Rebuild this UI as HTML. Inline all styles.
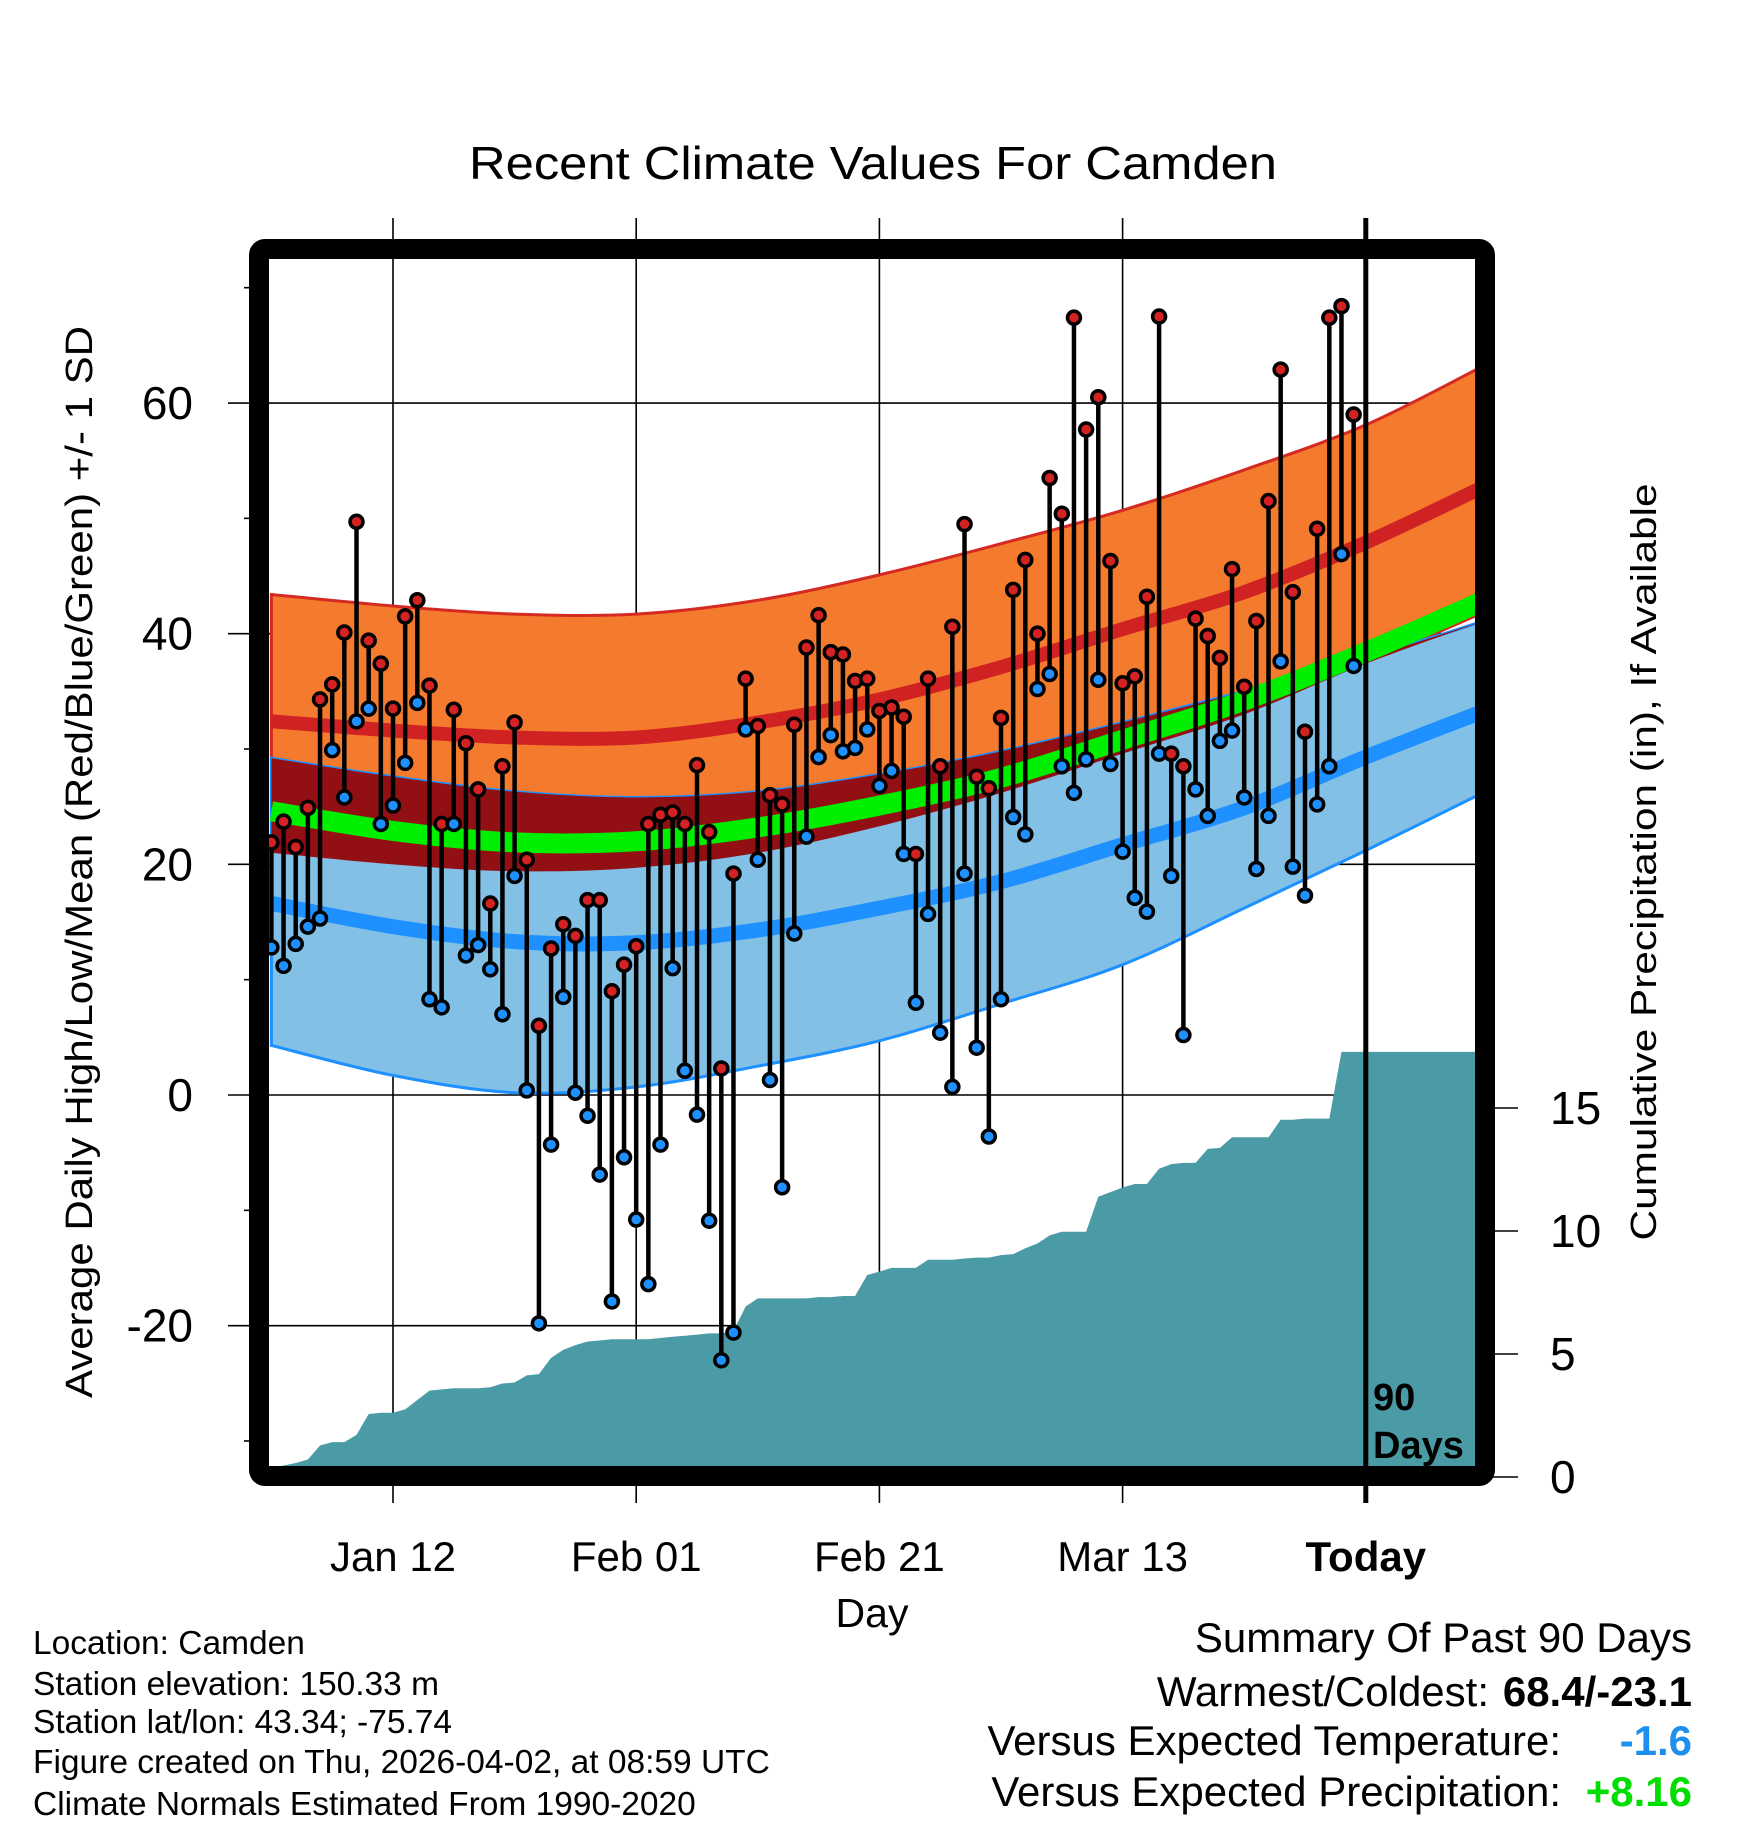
<!DOCTYPE html>
<html><head><meta charset="utf-8"><style>
html,body{margin:0;padding:0;background:#fff;}
svg{display:block;font-family:"Liberation Sans",sans-serif;}
</style></head><body>
<svg id="chart" width="1748" height="1828" viewBox="0 0 1748 1828" xmlns="http://www.w3.org/2000/svg">
<defs><clipPath id="plotClip"><rect x="269" y="259" width="1209" height="1209"/></clipPath></defs>
<text x="873" y="179" font-size="46" text-anchor="middle" textLength="808" lengthAdjust="spacingAndGlyphs">Recent Climate Values For Camden</text>
<g id="grid"></g>
<g id="plot" clip-path="url(#plotClip)"></g>
<g id="axes"></g>
<rect x="259" y="249" width="1226" height="1227" rx="6" fill="none" stroke="#000" stroke-width="20"/>
<text transform="translate(92,862) rotate(-90)" font-size="38" text-anchor="middle" textLength="1072" lengthAdjust="spacingAndGlyphs">Average Daily High/Low/Mean (Red/Blue/Green) +/- 1 SD</text>
<text transform="translate(1656,862) rotate(-90)" font-size="36" text-anchor="middle" textLength="757" lengthAdjust="spacingAndGlyphs">Cumulative Precipitation (in), If Available</text>
<text x="872" y="1627" font-size="41" text-anchor="middle">Day</text>
<text x="1373" y="1410" font-size="38" font-weight="bold">90</text>
<text x="1373" y="1458" font-size="38" font-weight="bold">Days</text>
<g font-size="33.5">
<text x="33" y="1654">Location: Camden</text>
<text x="33" y="1695">Station elevation: 150.33 m</text>
<text x="33" y="1733">Station lat/lon: 43.34; -75.74</text>
<text x="33" y="1773">Figure created on Thu, 2026-04-02, at 08:59 UTC</text>
<text x="33" y="1815">Climate Normals Estimated From 1990-2020</text>
</g>
<g font-size="42">
<text x="1692" y="1652" text-anchor="end">Summary Of Past 90 Days</text>
<text x="1489" y="1706" text-anchor="end">Warmest/Coldest:</text>
<text x="1692" y="1706" text-anchor="end" font-weight="bold">68.4/-23.1</text>
<text x="1561" y="1755" text-anchor="end">Versus Expected Temperature:</text>
<text x="1692" y="1755" text-anchor="end" font-weight="bold" fill="#1E8FEF">-1.6</text>
<text x="1561" y="1806" text-anchor="end">Versus Expected Precipitation:</text>
<text x="1692" y="1806" text-anchor="end" font-weight="bold" fill="#00DD00">+8.16</text>
</g>
</svg>
<script>
// ---- data ----
const highs = [21.9,23.7,21.5,24.9,34.3,35.6,40.1,49.7,39.4,37.4,33.5,41.5,42.9,35.5,23.5,33.4,30.5,26.5,16.6,28.5,32.3,20.4,6.0,12.7,14.8,13.8,16.9,16.9,9.0,11.3,12.9,23.5,24.3,24.5,23.5,28.6,22.8,2.3,19.2,36.1,32.0,26.0,25.2,32.1,38.8,41.6,38.4,38.2,35.9,36.1,33.3,33.6,32.8,20.9,36.1,28.5,40.6,49.5,27.6,26.6,32.7,43.8,46.4,40.0,53.5,50.4,67.4,57.7,60.5,46.3,35.7,36.3,43.2,67.5,29.6,28.5,41.3,39.8,37.9,45.6,35.4,41.1,51.5,62.9,43.6,31.5,49.1,67.4,68.4,59.0];
const lows = [12.8,11.2,13.1,14.6,15.3,29.9,25.8,32.4,33.5,23.5,25.1,28.8,34.0,8.3,7.6,23.5,12.1,13.0,10.9,7.0,19.0,0.4,-19.8,-4.3,8.5,0.2,-1.8,-6.9,-17.9,-5.4,-10.8,-16.4,-4.3,11.0,2.1,-1.7,-10.9,-23.0,-20.6,31.7,20.4,1.3,-8.0,14.0,22.4,29.3,31.2,29.8,30.1,31.7,26.8,28.1,20.9,8.0,15.7,5.4,0.7,19.2,4.1,-3.6,8.3,24.1,22.6,35.2,36.5,28.5,26.2,29.1,36.0,28.7,21.1,17.1,15.9,29.6,19.0,5.2,26.5,24.2,30.7,31.6,25.8,19.6,24.2,37.6,19.8,17.3,25.2,28.5,46.9,37.2];
const precip = [0.38,0.47,0.57,0.71,1.28,1.42,1.42,1.71,2.56,2.61,2.61,2.75,3.13,3.51,3.56,3.61,3.61,3.61,3.65,3.80,3.84,4.13,4.18,4.84,5.17,5.36,5.51,5.55,5.60,5.60,5.60,5.60,5.65,5.70,5.74,5.79,5.84,5.84,5.93,6.93,7.26,7.26,7.26,7.26,7.26,7.31,7.31,7.36,7.36,8.21,8.35,8.50,8.50,8.50,8.83,8.83,8.83,8.88,8.92,8.92,9.02,9.06,9.30,9.49,9.82,9.97,9.97,9.97,11.39,11.58,11.77,11.91,11.91,12.53,12.72,12.77,12.77,13.34,13.38,13.81,13.81,13.81,13.81,14.52,14.52,14.57,14.57,14.57,17.28,17.28];
const normDays = [-10,0,10,20,30,40,50,60,70,80,90];
const highPlus = [43.4,42.4,41.7,41.7,42.9,45.1,47.8,50.7,54.2,58.1,63.4];
const highMean = [32.4,31.6,31.0,31.0,32.3,34.3,37.1,40.4,43.6,47.9,52.9];
const highMinus = [21.0,20.0,19.4,19.7,21.0,23.3,26.2,29.6,33.0,37.4,42.0];
const avgMean = [24.6,22.9,21.9,22.0,23.2,25.1,27.5,30.8,34.2,38.4,43.0];
const lowPlus = [29.2,27.6,26.3,25.8,26.3,27.8,29.8,32.3,35.0,37.9,41.2];
const lowMean = [16.6,14.6,13.3,13.2,14.3,16.2,18.5,21.7,24.9,29.3,33.4];
const lowMinus = [4.3,1.7,0.2,0.7,2.5,4.7,7.9,11.3,16.2,21.2,26.4];
const yTicks = [-20,0,20,40,60];
const yMinor = [-30,-10,10,30,50,70];
const pTicks = [0,5,10,15];
const xTickDays = [0,20,40,60,80];
const xTickLabels = ["Jan 12","Feb 01","Feb 21","Mar 13","Today"];
const firstDay = -10;

// ---- scales ----
const X = d => 393 + 12.16 * d;
const Y = v => 1095 - 11.533 * v;
const P = v => 1477 - 24.6 * v;
const NS = "http://www.w3.org/2000/svg";
function mk(tag, attrs, parent){ const e=document.createElementNS(NS,tag); for(const k in attrs) e.setAttribute(k,attrs[k]); parent.appendChild(e); return e; }
function curveSegs(pts){
  let d = "";
  for(let i=0;i<pts.length-1;i++){
    const p0=pts[Math.max(0,i-1)],p1=pts[i],p2=pts[i+1],p3=pts[Math.min(pts.length-1,i+2)];
    const c1=[p1[0]+(p2[0]-p0[0])/6,p1[1]+(p2[1]-p0[1])/6];
    const c2=[p2[0]-(p3[0]-p1[0])/6,p2[1]-(p3[1]-p1[1])/6];
    d+=" C"+c1[0]+","+c1[1]+" "+c2[0]+","+c2[1]+" "+p2[0]+","+p2[1];
  }
  return d;
}
function smooth(pts){ return "M"+pts[0][0]+","+pts[0][1]+curveSegs(pts); }
const pts = arr => normDays.map((d,i)=>[X(d),Y(arr[i])]);
function band(top,bot){
  const t=pts(top), b=pts(bot).reverse();
  return smooth(t)+" L"+b[0][0]+","+b[0][1]+curveSegs(b)+" Z";
}
const grid=document.getElementById('grid'), plot=document.getElementById('plot'), axes=document.getElementById('axes');

yTicks.forEach(v=>{
  const l=mk('line',{x1:228,x2:1478,y1:Y(v),y2:Y(v),stroke:'#000','stroke-width':1.6},grid);
  
  
});
xTickDays.forEach((d,i)=>{
  if(i===4) return;
  const l=mk('line',{x1:X(d),x2:X(d),y1:218,y2:1503,stroke:'#000','stroke-width':1.6},grid);
  
  
});

(function(){
  let d="M"+X(firstDay-0.2)+","+P(0);
  precip.forEach((v,i)=>{ d+=" L"+X(firstDay+i)+","+P(v); });
  d+=" L1480,"+P(precip[precip.length-1])+" L1480,"+P(0)+" Z";
  const a=mk('path',{d:d,fill:'#4A9BA5'},plot);
  
  
})();

const ob=mk('path',{d:band(highPlus,highMinus),fill:'#F47A2E',stroke:'#D42A22','stroke-width':3},plot);


const bb=mk('path',{d:band(lowPlus,lowMinus),fill:'#82C0E6',stroke:'#1E90FF','stroke-width':3},plot);


const ovBot=highMinus.map((v,i)=>Math.min(v,lowPlus[i]));
const ov=mk('path',{d:band(lowPlus,ovBot),fill:'#920F14'},plot);


const hm=mk('path',{d:smooth(pts(highMean)),fill:'none',stroke:'#D02222','stroke-width':14},plot);


const am=mk('path',{d:smooth(pts(avgMean)),fill:'none',stroke:'#00EE00','stroke-width':20},plot);


const lm=mk('path',{d:smooth(pts(lowMean)),fill:'none',stroke:'#1E90FF','stroke-width':15},plot);



highs.forEach((h,i)=>{
  const x=X(firstDay+i);
  const s=mk('line',{x1:x,x2:x,y1:Y(h),y2:Y(lows[i]),stroke:'#000','stroke-width':4.5},plot);
  
  
});
highs.forEach((h,i)=>{
  const x=X(firstDay+i);
  const c1=mk('circle',{cx:x,cy:Y(h),r:6.5,fill:'#D42222',stroke:'#000','stroke-width':3.5},plot);
  
  
  const c2=mk('circle',{cx:x,cy:Y(lows[i]),r:6.5,fill:'#1E90FF',stroke:'#000','stroke-width':3.5},plot);
  
  
});

const tl=mk('line',{x1:X(80),x2:X(80),y1:218,y2:1503,stroke:'#000','stroke-width':5},axes);



yTicks.forEach(v=>{
  const t=mk('text',{x:193,y:Y(v)+16,'font-size':46,'text-anchor':'end'},axes);
  t.textContent=v;
  
  
});
yMinor.forEach(v=>{
  const l=mk('line',{x1:244,x2:252,y1:Y(v),y2:Y(v),stroke:'#000','stroke-width':1.6},axes);
  
  
});
pTicks.forEach(v=>{
  const l=mk('line',{x1:1490,x2:1518,y1:P(v),y2:P(v),stroke:'#000','stroke-width':1.6},axes);
  
  
  const t=mk('text',{x:1550,y:P(v)+16,'font-size':46},axes);
  t.textContent=v;
  
  
});
xTickDays.forEach((d,i)=>{
  const t=mk('text',{x:X(d),y:1571,'font-size':42,'text-anchor':'middle'},axes);
  if(i===4){ t.setAttribute('font-weight','bold'); }
  t.textContent=xTickLabels[i];
  
  
});
</script>
</body></html>
